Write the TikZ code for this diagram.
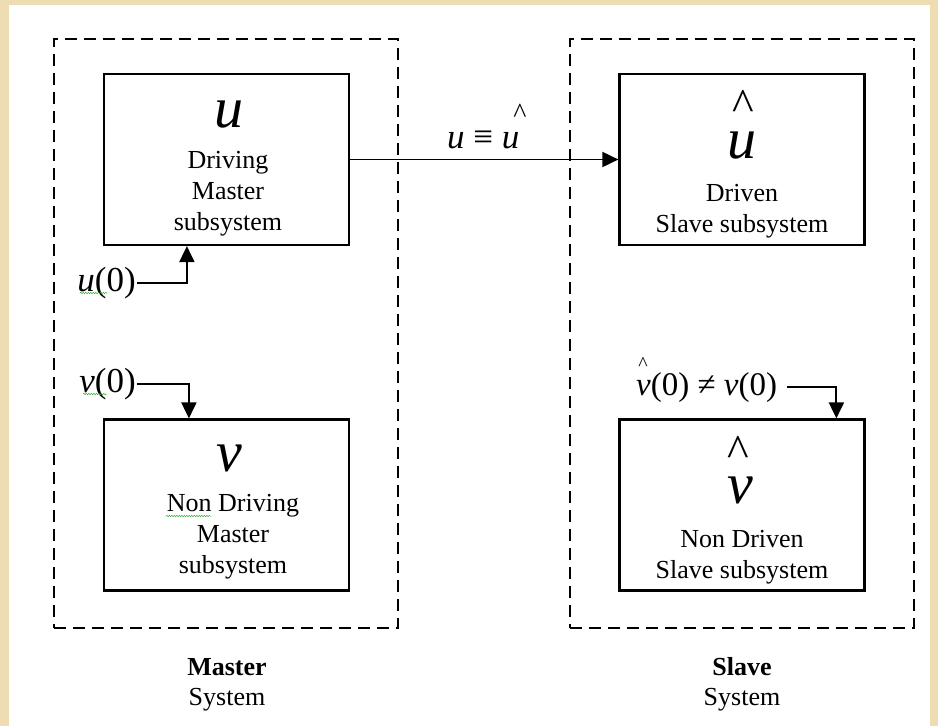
\documentclass[tikz,border=0pt]{standalone}
\usepackage{fontspec}
\setmainfont{Liberation Serif}
\usetikzlibrary{arrows.meta,decorations.pathmorphing}
\definecolor{parch}{RGB}{238,221,178}
\definecolor{squig}{RGB}{60,170,60}
\begin{document}
\begin{tikzpicture}[x=1pt,y=-1pt,
  box/.style={draw,line width=2.2pt,minimum width=245pt,minimum height=171pt,inner sep=0pt},
  sysbox/.style={draw,line width=2pt,dash pattern=on 12pt off 7pt,minimum width=344pt,minimum height=589pt,inner sep=0pt},
  body/.style={font=\fontsize{26}{31}\selectfont,align=center,anchor=base,inner sep=0pt},
  bigvar/.style={font=\fontsize{58}{58}\selectfont\itshape,anchor=base,inner sep=0pt},
  hatmark/.style={anchor=base,inner sep=0pt},
  lbl/.style={font=\fontsize{35}{35}\selectfont,anchor=base,inner sep=1pt},
  captext/.style={font=\fontsize{26}{30}\selectfont,align=center,anchor=base,inner sep=0pt},
  conn/.style={line width=1.9pt,-{Triangle[length=16pt,width=15pt]}},
  spell/.style={squig,line width=0.5pt,decorate,decoration={snake,amplitude=0.7pt,segment length=2.5pt}}
]
\useasboundingbox (0,0) rectangle (938,726);
\fill[parch] (0,0) rectangle (938,726);
\fill[white] (9,5) rectangle (930,726);

% system containers
\node[sysbox] (master) at (226,333.5) {};
\node[sysbox] (slave) at (742,333.5) {};

% subsystem boxes
\node[box] (u) at (226.5,159.5) {};
\node[box] (uh) at (742,159.5) {};
\node[box] (v) at (226.5,505) {};
\node[box] (vh) at (742,505) {};

% contents of u
\node[bigvar] (ulet) at (229,127) {u};
\node[body] (utxt) at (228,230) {Driving\\Master\\subsystem};

% contents of u hat
\node[hatmark,font=\fontsize{46}{46}\selectfont] (uhhat) at (743,120) {\char`\^};
\node[bigvar] (uhlet) at (742,158) {u};
\node[body] (uhtxt) at (742,232) {Driven\\Slave subsystem};

% contents of v
\node[bigvar] (vlet) at (229,471) {v};
\node[body] (vtxt) at (233,573) {Non Driving\\Master\\subsystem};
\draw[spell] (166,516) -- (211,516);

% contents of v hat
\node[hatmark,font=\fontsize{46}{46}\selectfont] (vhhat) at (738,466) {\char`\^};
\node[bigvar] (vhlet) at (740,503) {v};
\node[body] (vhtxt) at (742,578) {Non Driven\\Slave subsystem};

% coupling arrow
\draw[conn] (u.east) -- (uh.west);
\node[lbl,anchor=base west,inner sep=0pt] (coup) at (447,148) {\itshape u\upshape\ ≡ \itshape u};
\node[hatmark,font=\fontsize{28}{28}\selectfont] (couphat) at (520,122.6) {\char`\^};

% initial conditions
\node[lbl,anchor=base east] (u0) at (137,291) {\itshape u\upshape(0)};
\draw[spell] (80,293) -- (107,293);
\draw[conn] (u0.east) -| ([xshift=84pt]u.south west);

\node[lbl,anchor=base east] (v0) at (137,392) {\itshape v\upshape(0)};
\draw[spell] (83,394) -- (107,394);
\draw[conn] (v0.east) -| ([xshift=86pt]v.north west);

\node[lbl,font=\fontsize{33}{33}\selectfont,anchor=base west,inner sep=0pt] (vh0) at (636,395) {\itshape v\upshape(0) ≠ \itshape v\upshape(0)};
\node[hatmark,font=\fontsize{20}{20}\selectfont] (vh0hat) at (643,370) {\char`\^};
\draw[conn] ([xshift=10pt]vh0.east) -| ([xshift=218pt]vh.north west);

% captions
\node[captext] (mcap) at (227,705) {\textbf{Master}\\System};
\node[captext] (scap) at (742,705) {\textbf{Slave}\\System};
\end{tikzpicture}
\end{document}
